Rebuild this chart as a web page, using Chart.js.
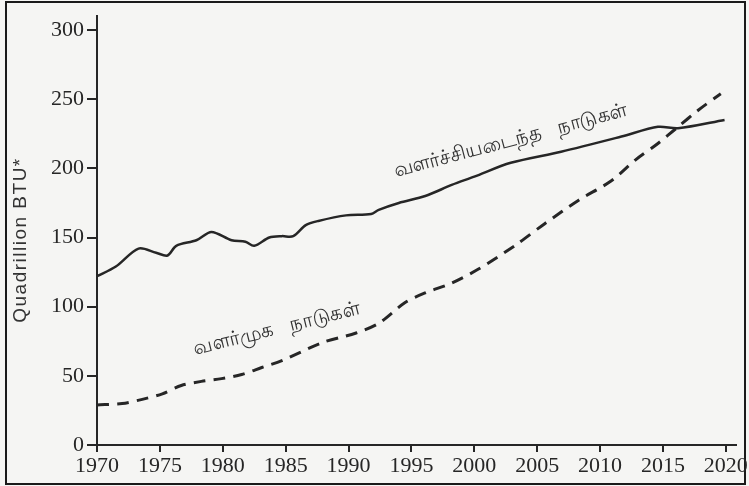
<!DOCTYPE html>
<html>
<head>
<meta charset="utf-8">
<script src="https://cdn.jsdelivr.net/npm/chart.js@4/dist/chart.umd.min.js"></script>
<style>
  html, body { margin: 0; padding: 0; background: #f5f5f3; }
  #wrap { width: 749px; height: 486px; }
</style>
</head>
<body>
<div id="wrap"><canvas id="energyChart" width="749" height="486"></canvas></div>
<script>
// developed countries (solid line)
const developedYears = [1970, 1971.5, 1973.3, 1974.7, 1975.6, 1976.3, 1977.9, 1979.1, 1980.7, 1981.8, 1982.5, 1983.7, 1984.7, 1985.6, 1986.6, 1987.6, 1989.8, 1991.8, 1992.4, 1994, 1996.1, 1998.2, 2000, 2002.9, 2006.9, 2011.7, 2014.6, 2016.2, 2019.9];
const developedValues = [122, 129, 142, 139, 137, 144, 148, 154, 148, 147, 144, 150, 151, 151, 159, 162, 166, 167, 170, 175, 180, 188, 194, 204, 212, 223, 230, 229, 235];

// developing countries (dashed line)
const developingYears = [1970, 1972, 1973.6, 1975.2, 1976.7, 1978.3, 1979.9, 1981.5, 1983.1, 1984.7, 1987.9, 1990.6, 1992.4, 1994.5, 1996.1, 1998.2, 2000.3, 2003.2, 2005.6, 2008.3, 2010.9, 2012.8, 2014.6, 2016.2, 2017.8, 2019.6];
const developingValues = [29, 30, 33, 37, 43, 46, 48, 51, 56, 61, 74, 81, 88, 103, 110, 117, 127, 144, 160, 177, 191, 206, 218, 230, 242, 254];

const yearTicks = [1970, 1975, 1980, 1985, 1990, 1995, 2000, 2005, 2010, 2015, 2020];
const valueTicks = [0, 50, 100, 150, 200, 250, 300];

const developedLabel = 'வளர்ச்சியடைந்த நாடுகள்';
const developingLabel = 'வளர்முக நாடுகள்';
const yTitle = 'Quadrillion BTU*';

const ink = '#262626';
const serif = 'Liberation Serif';

// paper background, frame, axis title and the two line labels
const decor = {
  id: 'decor',
  beforeDraw(chart) {
    const ctx = chart.ctx;
    ctx.save();
    ctx.fillStyle = '#f5f5f3';
    ctx.fillRect(0, 0, chart.width, chart.height);
    ctx.strokeStyle = '#1a1a1a';
    ctx.lineWidth = 2;
    ctx.strokeRect(6, 2, 739, 482);
    ctx.restore();
  },
  afterDraw(chart) {
    const ctx = chart.ctx;
    const x = chart.scales.x, y = chart.scales.y;

    ctx.save();
    ctx.translate(21, 240);
    ctx.rotate(-Math.PI / 2);
    ctx.font = '19px "Liberation Sans", sans-serif';
    if ('letterSpacing' in ctx) ctx.letterSpacing = '1.5px';
    ctx.fillStyle = '#333';
    ctx.textAlign = 'center';
    ctx.textBaseline = 'middle';
    ctx.fillText(yTitle, 0, 0);
    ctx.restore();

    const put = (text, year, val, deg) => {
      ctx.save();
      ctx.translate(x.getPixelForValue(year), y.getPixelForValue(val));
      ctx.rotate(deg * Math.PI / 180);
      ctx.font = '20px "Noto Sans", "DejaVu Sans", sans-serif';
      if ('wordSpacing' in ctx) ctx.wordSpacing = '12px';
      ctx.fillStyle = '#333';
      ctx.textAlign = 'center';
      ctx.textBaseline = 'middle';
      ctx.fillText(text, 0, 0);
      ctx.restore();
    };
    put(developedLabel, 2002.9, 220, -15);
    put(developingLabel, 1984.3, 84, -14);
  }
};

new Chart(document.getElementById('energyChart'), {
  type: 'line',
  data: {
    datasets: [{
      label: developedLabel,
      data: developedYears.map((yr, i) => ({ x: yr, y: developedValues[i] })),
      borderColor: ink,
      borderWidth: 2.5,
      pointRadius: 0,
      tension: 0.3,
      fill: false
    }, {
      label: developingLabel,
      data: developingYears.map((yr, i) => ({ x: yr, y: developingValues[i] })),
      borderColor: ink,
      borderWidth: 3,
      borderDash: [12, 8],
      pointRadius: 0,
      tension: 0.3,
      fill: false
    }]
  },
  options: {
    responsive: false,
    animation: false,
    layout: { padding: { top: 13, right: 11, left: 0, bottom: 0 } },
    plugins: { legend: { display: false }, tooltip: { enabled: false } },
    scales: {
      x: {
        type: 'linear',
        min: 1970,
        max: 2020.8,
        afterBuildTicks: s => { s.ticks = yearTicks.map(v => ({ value: v })); },
        afterFit: s => { s.height = 41; },
        ticks: { color: ink, padding: 1, maxRotation: 0, autoSkip: false,
                 font: { family: serif, size: 22 }, callback: v => String(v) },
        grid: { display: true, drawOnChartArea: false, drawTicks: true, tickLength: 7, color: ink, lineWidth: 2 },
        border: { display: true, color: ink, width: 2 }
      },
      y: {
        min: 0,
        max: 310,
        afterBuildTicks: s => { s.ticks = valueTicks.map(v => ({ value: v })); },
        afterFit: s => { s.width = 97; },
        ticks: { color: ink, padding: 3, font: { family: serif, size: 22 } },
        grid: { display: true, drawOnChartArea: false, drawTicks: true, tickLength: 10, color: ink, lineWidth: 2 },
        border: { display: true, color: ink, width: 2 }
      }
    }
  },
  plugins: [decor]
});
</script>
</body>
</html>
